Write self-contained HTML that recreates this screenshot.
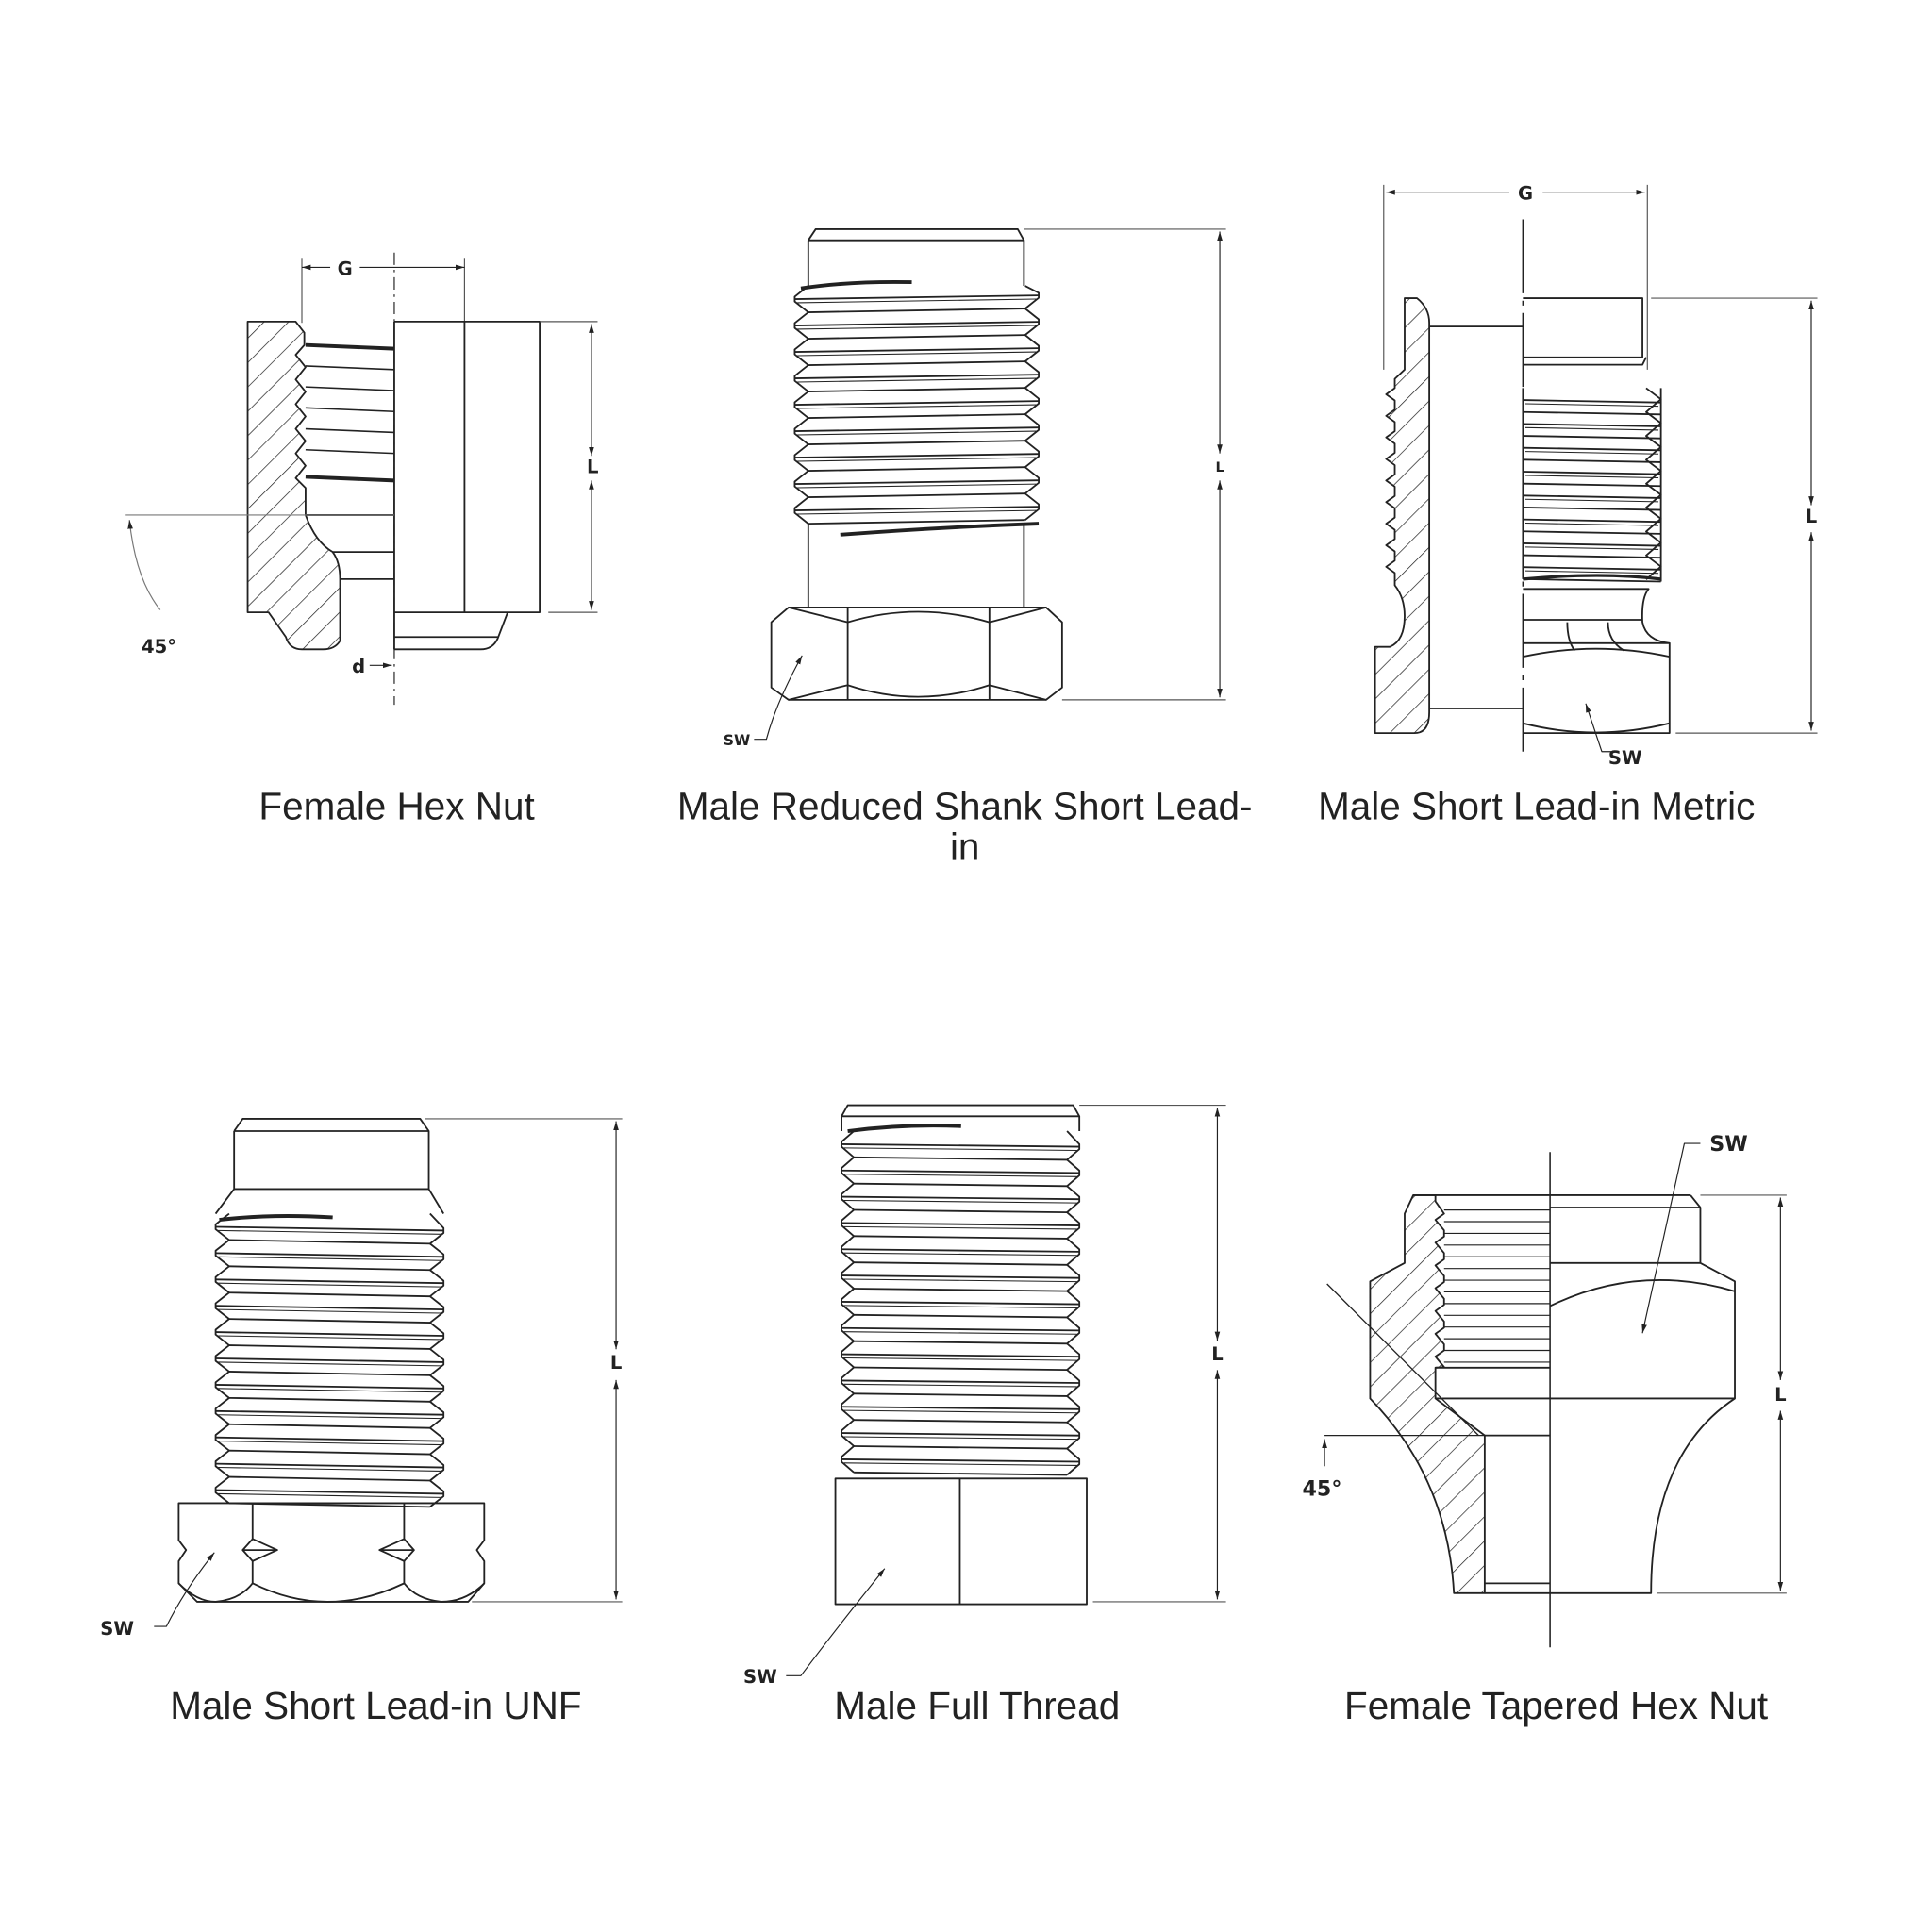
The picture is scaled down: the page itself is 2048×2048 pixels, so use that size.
<!DOCTYPE html>
<html><head><meta charset="utf-8"><style>
html,body{margin:0;padding:0;background:#fff;}
svg{display:block;}
.t{font-family:"Liberation Sans",sans-serif;font-size:31px;fill:#222;text-anchor:middle;}
.b{font-family:"DejaVu Sans","Liberation Sans",sans-serif;font-weight:bold;font-size:15px;fill:#222;text-anchor:middle;}
</style></head><body>
<svg id="s" width="2048" height="2048" viewBox="0 0 1568 1568" xmlns="http://www.w3.org/2000/svg">
<defs>
<pattern id="h" patternUnits="userSpaceOnUse" width="14" height="14" patternTransform="rotate(45)">
<line x1="0" y1="0" x2="0" y2="14" stroke="#222" stroke-width="1.1"/></pattern>
<marker id="a" viewBox="0 0 10 10" refX="10" refY="5" markerWidth="8" markerHeight="8" orient="auto-start-reverse"><path d="M0,2 L10,5 L0,8z" fill="#222"/></marker>
</defs>
<g id="g" fill="none" stroke="#222" stroke-width="1.4" stroke-linejoin="round"></g>
<text class="t" x="322" y="665">Female Hex Nut</text>
<text class="t" x="783" y="665">Male Reduced Shank Short Lead-</text>
<text class="t" x="783" y="698">in</text>
<text class="t" x="1247" y="665">Male Short Lead-in Metric</text>
<text class="t" x="305" y="1395">Male Short Lead-in UNF</text>
<text class="t" x="793" y="1395">Male Full Thread</text>
<text class="t" x="1263" y="1395">Female Tapered Hex Nut</text>
<text class="b" x="280" y="223">G</text>
<text class="b" x="481" y="384">L</text>
<text class="b" x="129" y="530">45°</text>
<text class="b" x="291" y="546">d</text>
<text class="b" x="990" y="383" style="font-size:11px">L</text>
<text class="b" x="598" y="605" style="font-size:12px">SW</text>
<text class="b" x="1238" y="162">G</text>
<text class="b" x="1470" y="424">L</text>
<text class="b" x="1319" y="620">SW</text>
<text class="b" x="500" y="1111">L</text>
<text class="b" x="95" y="1327">SW</text>
<text class="b" x="988" y="1104">L</text>
<text class="b" x="617" y="1366">SW</text>
<text class="b" x="1403" y="934" style="font-size:17px">SW</text>
<text class="b" x="1445" y="1137">L</text>
<text class="b" x="1073" y="1214" style="font-size:17px">45°</text>
</svg>
<script>
var G=document.getElementById('g'),NS='http://www.w3.org/2000/svg';
function E(t,a){var e=document.createElementNS(NS,t);for(var k in a)e.setAttribute(k,a[k]);G.appendChild(e);return e;}
function L(x1,y1,x2,y2,o){var a={x1:x1,y1:y1,x2:x2,y2:y2};for(var k in o||{})a[k]=o[k];return E('line',a);}
function P(d,o){var a={d:d};for(var k in o||{})a[k]=o[k];return E('path',a);}
var thin={'stroke-width':0.9,stroke:'#555'};
function dim(x1,y1,x2,y2){L(x1,y1,x2,y2,{'stroke-width':0.9,'marker-start':'url(#a)','marker-end':'url(#a)'});}
function MT(xl,xr,d,y0,y1,n,sl){var p=(y1-y0)/n,s='M'+(xl+d)+','+y0,r='M'+(xr-d)+','+y0;
for(var i=0;i<n;i++){var ym=y0+i*p+p/2,ye=y0+(i+1)*p;s+=' L'+xl+','+(ym-2)+' L'+xl+','+(ym+2)+' L'+(xl+d)+','+ye;r+=' L'+xr+','+(ym-2-sl)+' L'+xr+','+(ym+2-sl)+' L'+(xr-d)+','+(ye-sl);
L(xl,ym,xr,ym-sl);L(xl+d,ye,xr-d,ye-sl);L(xl+2,ym+3,xr-2,ym+3-sl,{'stroke-width':0.8});}
P(s);P(r);}

// ===== 1 Female Hex Nut
L(320,205,320,572,{'stroke-dasharray':'10,4,2,4','stroke-width':0.9});
L(245,210,245,262,thin);L(377,210,377,262,thin);
L(245,217,268,217,{'stroke-width':0.9,'marker-start':'url(#a)'});L(292,217,377,217,{'stroke-width':0.9,'marker-end':'url(#a)'});
var sec1='M201,261 L240,261 L247,270 L247,280 L240,288 L248,298 L240,308 L248,318 L240,328 L248,338 L240,348 L248,358 L240,368 L248,378 L240,388 L248,396 L248,418 Q256,440 270,448 Q276,456 276,470 L276,520 Q272,527 262,527 L245,527 Q235,527 232,517 L218,497 L201,497 Z';
P(sec1,{fill:'url(#h)'});
P('M320,261 L438,261 L438,497 L320,497 M377,261 L377,497 M320,497 L412,497 L404,518 Q400,527 390,527 L320,527 M320,517 L404,517');
for(var y of [280,297,314,331,348,365,387]){L(248,y,320,y+3,{'stroke-width':(y==280||y==387)?3:1.2});}
L(248,418,320,418);L(270,448,320,448);L(276,470,320,470);
L(320,261,320,527);
L(438,261,485,261,thin);L(445,497,485,497,thin);
dim(480,263,480,370);dim(480,390,480,495);
L(102,418,320,418,{stroke:'#777','stroke-width':0.9});
P('M105,422 Q110,470 130,495',{stroke:'#777','stroke-width':0.9,'marker-start':'url(#a)'});
L(300,540,318,540,{'stroke-width':0.9,'marker-end':'url(#a)'});

// ===== 2 Male Reduced Shank
P('M656,195 L662,186 L826,186 L831,195 L831,232 M656,195 L656,232 M656,425 L656,493 M831,425 L831,493 M656,195 L831,195');
MT(645,843,11,232,425,9,3);
P('M650,234 Q690,228 740,229',{'stroke-width':3});P('M682,434 Q760,428 843,425',{'stroke-width':3});
P('M640,493 L849,493 L862,505 L862,558 L849,568 L640,568 L626,558 L626,505 Z');
P('M688,493 L688,568 M803,493 L803,568 M640,493 L688,505 M849,493 L803,505 M640,568 L688,556 M849,568 L803,556');
P('M688,505 Q745,488 803,505 M688,556 Q745,575 803,556');
L(831,186,995,186,thin);L(862,568,995,568,thin);
dim(990,188,990,368);dim(990,390,990,566);
P('M612,600 L622,600 Q630,570 651,532',{'stroke-width':0.9,'marker-end':'url(#a)'});

// ===== 3 Male Short Lead-in Metric
L(1123,150,1123,300,thin);L(1337,150,1337,300,thin);
L(1125,156,1225,156,{'stroke-width':0.9,stroke:'#777','marker-start':'url(#a)'});L(1252,156,1335,156,{'stroke-width':0.9,stroke:'#777','marker-end':'url(#a)'});
L(1236,178,1236,610,{'stroke-width':1.2,'stroke-dasharray':'60,6,4,6'});
var s3='M1140,242 L1150,242 Q1160,250 1160,262 L1160,578 Q1160,595 1148,595 L1116,595 L1116,525 L1128,525 Q1140,520 1140,500 Q1140,485 1132,475 L1132,465';
for(var i=0;i<9;i++){var y=465-i*17.5;s3+=' L1125,'+(y-5)+' L1132,'+(y-10)+' L1132,'+(y-17.5);}
s3+=' L1140,300 Z';
P(s3,{fill:'url(#h)'});
L(1160,265,1236,265);L(1160,575,1236,575);
P('M1236,242 L1333,242 L1333,290 L1236,290 M1236,296 L1333,296 L1336,290');
MT(1236,1348,0.01,315,470,8,-2);
(function(){var s='M1336,315';for(var i=0;i<8;i++){var y=315+i*19.4;s+=' L1348,'+(y+9)+' L1336,'+(y+19.4);}P(s);})();
P('M1236,470 Q1300,464 1348,470',{'stroke-width':2.5});
P('M1236,478 L1338,478 Q1332,485 1333,505 Q1336,520 1355,522 L1355,595 L1236,595 M1236,503 L1333,503 M1236,522 L1355,522');
P('M1272,505 Q1272,520 1278,528 M1305,505 Q1305,520 1318,528');
P('M1236,533 Q1295,520 1355,533 M1236,587 Q1295,602 1355,587');
L(1340,242,1475,242,thin);L(1360,595,1475,595,thin);
dim(1470,244,1470,410);dim(1470,432,1470,593);
P('M1312,610 L1300,610 Q1295,595 1287,571',{'stroke-width':0.9,'marker-end':'url(#a)'});

// ===== 4 Male Short Lead-in UNF
P('M190,918 L197,908 L341,908 L348,918 L348,965 L360,985 M190,918 L190,965 L175,985 M190,918 L348,918 M190,965 L348,965');
MT(175,360,11,985,1220,11,-3);
P('M178,990 Q220,985 270,988',{'stroke-width':3});
P('M145,1220 L393,1220 L393,1250 L387,1258 L393,1267 L393,1285 L380,1300 L160,1300 L145,1285 L145,1267 L151,1258 L145,1250 Z');
P('M205,1220 L205,1249 M205,1267 L205,1285 M328,1220 L328,1249 M328,1267 L328,1285');
P('M205,1249 L197,1258 L205,1267 L225,1258 Z M328,1249 L336,1258 L328,1267 L308,1258 Z M197,1258 L225,1258 M308,1258 L336,1258');
P('M145,1285 Q160,1300 175,1300 Q195,1298 205,1285 Q265,1315 328,1285 Q338,1298 358,1300 Q378,1300 393,1285');
L(345,908,505,908,thin);L(383,1300,505,1300,thin);
dim(500,910,500,1095);dim(500,1120,500,1298);
P('M125,1320 L135,1320 Q150,1290 174,1260',{'stroke-width':0.9,'marker-end':'url(#a)'});

// ===== 5 Male Full Thread
P('M683,906 L688,897 L871,897 L876,906 L683,906 M683,906 L683,918 M876,906 L876,918');
MT(683,876,10,918,1195,13,-2);
P('M688,918 Q735,912 780,914',{'stroke-width':3});
P('M678,1200 L882,1200 L882,1302 L678,1302 Z M779,1200 L779,1302');
L(876,897,995,897,thin);L(887,1300,995,1300,thin);
dim(988,899,988,1088);dim(988,1112,988,1298);
P('M638,1360 L650,1360 Q680,1320 718,1273',{'stroke-width':0.9,'marker-end':'url(#a)'});

// ===== 6 Female Tapered Hex Nut
L(1258,935,1258,1337,{'stroke-width':1.2});
var s6='M1147,970 L1165,970 L1165,975';
for(var i=0;i<7;i++){var y=980+i*18.5;s6+=' L1172,'+(y+5)+' L1165,'+(y+10)+' L1172,'+(y+18.5);}
s6+=' L1165,1110 L1165,1135 L1205,1165 L1205,1293 L1180,1293 Q1175,1200 1112,1135 L1112,1040 L1140,1025 L1140,985 Z';
P(s6,{fill:'url(#h)'});
for(var i=0;i<14;i++){var y=982+i*9.5;L(1172,y,1258,y,{'stroke-width':0.9});}
L(1165,1110,1258,1110);L(1165,1135,1258,1135);L(1205,1165,1258,1165);L(1205,1285,1258,1285);L(1205,1293,1258,1293);
L(1147,970,1372,970);
P('M1258,980 L1380,980 L1380,1025 L1258,1025 M1372,970 L1380,980 M1380,1025 L1408,1040 L1408,1135 L1258,1135 M1258,1060 Q1330,1025 1408,1048');
P('M1408,1135 Q1340,1180 1340,1293 L1258,1293');
L(1075,1165,1205,1165,{'stroke-width':0.9});
L(1077,1042,1200,1165,{'stroke-width':1});
L(1075,1190,1075,1168,{'stroke-width':0.9,'marker-end':'url(#a)'});
L(1380,970,1450,970,thin);L(1345,1293,1450,1293,thin);
dim(1445,972,1445,1120);dim(1445,1145,1445,1291);
P('M1380,928 L1367,928 L1333,1082',{'stroke-width':0.9,'marker-end':'url(#a)'});
</script>
</body></html>
